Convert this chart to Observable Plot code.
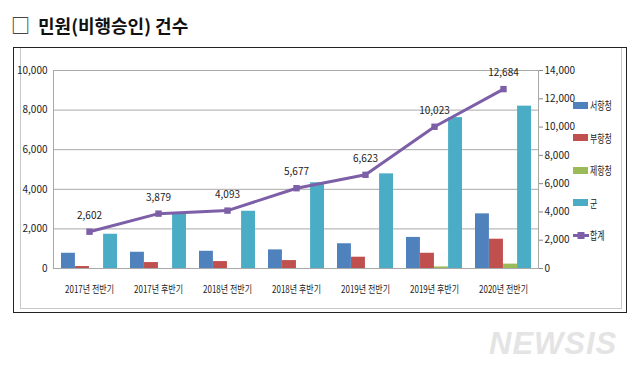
<!DOCTYPE html>
<html><head><meta charset="utf-8">
<script src="https://cdn.jsdelivr.net/npm/d3@7"></script>
<script src="https://cdn.jsdelivr.net/npm/@observablehq/plot@0.6"></script>
<style>
body{margin:0;background:#fff;width:640px;height:369px;overflow:hidden;position:relative;font-family:"Noto Sans CJK KR",sans-serif;}
#title{position:absolute;left:11px;top:13px;font-size:18px;font-weight:bold;color:#111;white-space:nowrap;line-height:24px}
#title .box{font-weight:normal;font-size:19px;margin-right:8px}
#frame{position:absolute;left:13px;top:47px;box-sizing:border-box;width:614px;height:266px;border:1.5px solid #222}
#inner{position:absolute;left:20px;top:48px;width:602px;height:261px;border-left:1px solid #c8c8c8;border-right:1px solid #c8c8c8;border-bottom:1px solid #c8c8c8;box-sizing:border-box}
#chart{position:absolute;left:0;top:55px;}
#legend{position:absolute;left:573px;top:89px}
.item{height:32.5px;display:flex;align-items:center;white-space:nowrap}
.sw{width:15px;height:7px;margin-right:2px}
.lab{display:inline-block;font-size:11px;color:#222;transform:scaleX(0.72);transform-origin:left center}
.wm{position:absolute;left:489px;top:326px;font:italic bold 31px "Liberation Sans",sans-serif;color:#e4e4e4;letter-spacing:1px}
</style>
</head><body>
<div id="title"><span class="box">□</span>민원(비행승인) 건수</div>
<div id="frame"></div>
<div id="inner"></div>
<div id="chart"></div>
<div id="legend"></div>
<div class="wm">NEWSIS</div>
<script>
const categories = ["2017년 전반기","2017년 후반기","2018년 전반기","2018년 후반기","2019년 전반기","2019년 후반기","2020년 전반기"];
const seohang = [770, 820, 870, 940, 1250, 1570, 2760];
const buhang  = [100, 300, 350, 400, 570, 770, 1480];
const jehang  = [0, 0, 0, 0, 0, 80, 220];
const gun     = [1730, 2760, 2890, 4330, 4780, 7620, 8200];
const totals  = [2602, 3879, 4093, 5677, 6623, 10023, 12684];
const seriesNames = ["서항청","부항청","제항청","군"];
const lineName = "합계";
const colors = ["#4F81BD","#C0504D","#9BBB59","#4BACC6"];
const lineColor = "#7D5FA8";
const leftTicks = [0, 2000, 4000, 6000, 8000, 10000];
const rightTicks = [0, 2000, 4000, 6000, 8000, 10000, 12000, 14000];

const seriesValues = [seohang, buhang, jehang, gun];
const ratio = 10000 / 14000;
const W = 640, H = 245, mL = 53, mR = 102, mT = 15, mB = 32;
const pIn = 0.19, pOut = 0.095;
const step = (W - mL - mR) / (categories.length - pIn + 2 * pOut);
const barW = step * (1 - pIn) / seriesNames.length;

const rows = categories.map((c, i) => ({category: c, total: totals[i]}));
const fmt = d3.format(",");

const chart = Plot.plot({
  width: W, height: H, marginLeft: mL, marginRight: mR, marginTop: mT, marginBottom: mB,
  style: {fontFamily: '"Liberation Sans Narrow","Noto Sans CJK KR",sans-serif', fontSize: "10px", color: "#222", background: "transparent"},
  x: {domain: categories, paddingInner: pIn, paddingOuter: pOut, label: null},
  y: {domain: [0, 10000], label: null},
  marks: [
    Plot.ruleY(leftTicks, {stroke: "#a8a8a8", strokeWidth: 1}),
    Plot.frame({stroke: "#a8a8a8"}),
    ...seriesNames.map((s, j) => Plot.barY(categories.map((c, i) => ({category: c, value: seriesValues[j][i]})), {
      x: "category", y: "value", fill: colors[j],
      insetLeft: j * barW, insetRight: (seriesNames.length - 1 - j) * barW
    })),
    Plot.line(rows, {x: "category", y: d => d.total * ratio, stroke: lineColor, strokeWidth: 3}),
    Plot.dot(rows, {x: "category", y: d => d.total * ratio, symbol: "square", r: 3.6, fill: lineColor}),
    Plot.text(rows, {x: "category", y: d => d.total * ratio, text: d => fmt(d.total), dy: -16, fill: "#222", fontSize: 10}),
    Plot.axisY(leftTicks, {anchor: "left", tickSize: 0, tickPadding: 6, tickFormat: fmt, label: null}),
    Plot.axisY(rightTicks.map(v => v * ratio), {anchor: "right", tickSize: 4, tickPadding: 2, stroke: "#888", tickFormat: d => fmt(Math.round(d / ratio)), label: null}),
    Plot.axisX({tickSize: 0, tickPadding: 17, label: null})
  ]
});
document.getElementById("chart").appendChild(chart);
chart.querySelectorAll('[aria-label="x-axis tick label"] text').forEach(t => {
  const len = t.getComputedTextLength();
  t.setAttribute("textLength", len * 0.8);
  t.setAttribute("lengthAdjust", "spacingAndGlyphs");
});

const legend = d3.select("#legend");
seriesNames.forEach((s, j) => {
  const it = legend.append("div").attr("class", "item");
  it.append("div").attr("class", "sw").style("background", colors[j]);
  it.append("span").attr("class", "lab").text(s);
});
const li = legend.append("div").attr("class", "item");
const ls = li.append("svg").attr("width", 17).attr("height", 9);
ls.append("line").attr("x1", 0).attr("x2", 16).attr("y1", 4.5).attr("y2", 4.5).attr("stroke", lineColor).attr("stroke-width", 3);
ls.append("rect").attr("x", 4.5).attr("y", 1).attr("width", 7).attr("height", 7).attr("fill", lineColor);
li.append("span").attr("class", "lab").text(lineName);
</script>
</body></html>
